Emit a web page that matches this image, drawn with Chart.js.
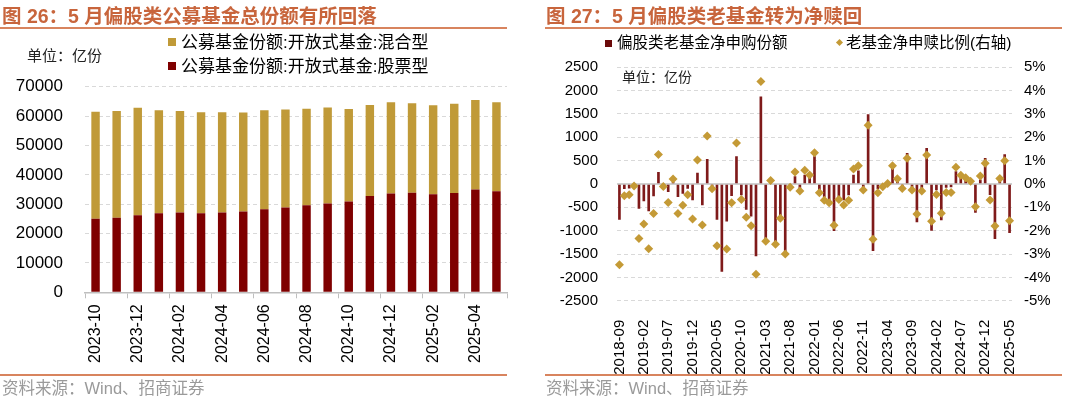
<!DOCTYPE html>
<html>
<head>
<meta charset="UTF-8">
<title>偏股类基金份额</title>
<script src="https://cdn.jsdelivr.net/npm/chart.js"></script>
<style>
    body {
        margin: 0;
        padding: 0;
        width: 1080px;
        height: 396px;
        overflow: hidden;
        position: relative;
        background-color: #FFFFFF;
        font-family: "Liberation Sans", Arial, "Noto Sans CJK SC", sans-serif;
    }

    canvas {
        position: absolute;
        top: 0;
    }

    .txt {
        position: absolute;
        white-space: nowrap;
        z-index: 2;
    }

    .title {
        top: 6px;
        font-size: 19.5px;
        line-height: 20px;
        font-weight: bold;
        color: #c8653c;
    }

    .rule {
        position: absolute;
        height: 2px;
        background-color: #d8845e;
        z-index: 2;
    }

    .source {
        top: 380px;
        font-size: 16.5px;
        line-height: 17px;
        color: #9a9a9a;
    }

    .unit {
        color: #222222;
    }

    .box {
        position: absolute;
        z-index: 2;
    }
</style>
</head>
<body>
<!-- 左图 -->
<canvas id="chart26" width="540" height="396" style="left:0"></canvas>
<div class="txt title" style="left:2px">图 26：5 月偏股类公募基金总份额有所回落</div>
<div class="rule" style="left:0; top:27px; width:507px"></div>
<div class="box" style="left:168px; top:38px; width:8px; height:8px; background:#c09a38"></div>
<div class="txt" style="left:181px; top:34px; font-size:17px; line-height:17px">公募基金份额:开放式基金:混合型</div>
<div class="box" style="left:168px; top:62px; width:8px; height:8px; background:#7f0000"></div>
<div class="txt" style="left:181px; top:58px; font-size:17px; line-height:17px">公募基金份额:开放式基金:股票型</div>
<div class="txt unit" style="left:27px; top:48px; font-size:15px; line-height:15px">单位：亿份</div>
<div class="rule" style="left:0; top:374px; width:507px"></div>
<div class="txt source" style="left:2px">资料来源：Wind、招商证券</div>

<!-- 右图 -->
<canvas id="chart27" width="540" height="396" style="left:540px"></canvas>
<div class="txt title" style="left:546px">图 27：5 月偏股类老基金转为净赎回</div>
<div class="rule" style="left:545px; top:27px; width:517px"></div>
<div class="box" style="left:605px; top:40px; width:7px; height:7px; background:#6b0a0a"></div>
<div class="txt" style="left:617px; top:35px; font-size:15.5px; line-height:16px">偏股类老基金净申购份额</div>
<div class="box" style="left:837px; top:40px; width:5px; height:5px; background:#c49a36; transform:rotate(45deg)"></div>
<div class="txt" style="left:846px; top:35px; font-size:15.5px; line-height:16px">老基金净申赎比例(右轴)</div>
<div class="txt unit" style="left:622px; top:70px; font-size:14px; line-height:14px">单位：亿份</div>
<div class="rule" style="left:545px; top:374px; width:517px"></div>
<div class="txt source" style="left:546px">资料来源：Wind、招商证券</div>

<script>
    // 图26 数据（亿份）
    const months26 = ['2023-10', '2023-11', '2023-12', '2024-01', '2024-02', '2024-03', '2024-04', '2024-05',
        '2024-06', '2024-07', '2024-08', '2024-09', '2024-10', '2024-11', '2024-12', '2025-01',
        '2025-02', '2025-03', '2025-04', '2025-05'];
    const stockShares = [25000, 25400, 26200, 26900, 27200, 26900, 27200, 27500, 28300, 28900,
        29600, 30200, 30900, 32800, 33600, 33900, 33400, 33800, 35000, 34400];
    const mixedShares = [36500, 36300, 36600, 35100, 34500, 34400, 34100, 33700, 33700, 33300,
        32900, 32700, 31500, 31000, 31100, 30500, 30300, 30400, 30500, 30300];

    // 图27 数据
    const months27 = [
        '2018-09', '2018-10', '2018-11', '2018-12',
        '2019-01', '2019-02', '2019-03', '2019-04', '2019-05', '2019-06', '2019-07', '2019-08', '2019-09', '2019-10', '2019-11', '2019-12',
        '2020-01', '2020-02', '2020-03', '2020-04', '2020-05', '2020-06', '2020-07', '2020-08', '2020-09', '2020-10', '2020-11', '2020-12',
        '2021-01', '2021-02', '2021-03', '2021-04', '2021-05', '2021-06', '2021-07', '2021-08', '2021-09', '2021-10', '2021-11', '2021-12',
        '2022-01', '2022-02', '2022-03', '2022-04', '2022-05', '2022-06', '2022-07', '2022-08', '2022-09', '2022-10', '2022-11', '2022-12',
        '2023-01', '2023-02', '2023-03', '2023-04', '2023-05', '2023-06', '2023-07', '2023-08', '2023-09', '2023-10', '2023-11', '2023-12',
        '2024-01', '2024-02', '2024-03', '2024-04', '2024-05', '2024-06', '2024-07', '2024-08', '2024-09', '2024-10', '2024-11', '2024-12',
        '2025-01', '2025-02', '2025-03', '2025-04', '2025-05'];
    // 偏股类老基金净申购份额（亿份）
    const netSubscription = [
        -757, -100, -90, -40,
        -521, -364, -579, -257, 250, -30, -164, 40, -271, -200, -93, -343,
        236, -450, 530, -40, -760, -1875, -795, -250, 586, -236, -543, -690,
        -1543, 1868, -1250, 60, -1255, -680, -1505, -60, 157, -120, 193, 121,
        586, -120, -271, -343, -1000, -271, -343, -236, 193, 280, -110, 1486,
        -1429, -100, -60, 10, 420, 100, -100, 657, -150, -814, -160, 764,
        -996, -129, -771, -75, -65, 264, 160, 80, 40, -610, 90, 550,
        -230, -1170, 90, 630, -1040];
    // 老基金净申赎比例（%，右轴）
    const redemptionRatio = [
        -3.46, -0.50, -0.46, -0.09,
        -2.33, -1.71, -2.77, -1.26, 1.26, -0.11, -0.79, 0.21, -1.26, -0.91, -0.46, -1.50,
        1.03, -1.76, 2.06, -0.20, -2.65, -6.5, -2.78, -0.80, 1.76, -0.66, -1.42, -1.79,
        -3.87, 4.39, -2.45, 0.15, -2.58, -1.47, -3.00, -0.14, 0.51, -0.30, 0.59, 0.39,
        1.34, -0.37, -0.70, -0.80, -1.77, -0.66, -0.90, -0.70, 0.64, 0.78, -0.26, 2.52,
        -2.37, -0.37, -0.12, 0.02, 0.78, 0.22, -0.19, 1.10, -0.26, -1.29, -0.30, 1.24,
        -1.60, -0.45, -1.25, -0.36, -0.36, 0.72, 0.37, 0.27, 0.12, -0.97, 0.34, 0.89,
        -0.69, -1.80, 0.24, 1.00, -1.57];

    Chart.defaults.font.family = '"Liberation Sans", Arial, sans-serif';
    Chart.defaults.color = '#000000';
    Chart.defaults.animation = false;

    const GRID = '#d9d9d9';
    const NONE = 'rgba(0,0,0,0)';

    // 图26：堆积柱状图
    new Chart(document.getElementById('chart26'), {
        type: 'bar',
        data: {
            labels: months26,
            datasets: [{
                label: '公募基金份额:开放式基金:股票型',
                data: stockShares,
                backgroundColor: '#7f0000',
                barPercentage: 0.4,
                categoryPercentage: 1
            }, {
                label: '公募基金份额:开放式基金:混合型',
                data: mixedShares,
                backgroundColor: '#c09a38',
                barPercentage: 0.4,
                categoryPercentage: 1
            }]
        },
        options: {
            responsive: false,
            layout: { padding: { left: 0, right: 33, top: 86.7, bottom: 23.7 } },
            plugins: { legend: { display: false }, tooltip: { enabled: false } },
            scales: {
                x: {
                    stacked: true,
                    grid: {
                        offset: true,
                        drawOnChartArea: false,
                        drawTicks: true,
                        tickLength: 6,
                        tickColor: c => (c.index === undefined || c.index % 2 === 0) ? '#bfbfbf' : NONE
                    },
                    border: { color: '#bfbfbf', width: 1.5 },
                    ticks: {
                        autoSkip: false,
                        minRotation: 90,
                        maxRotation: 90,
                        padding: 6,
                        font: { size: 16 },
                        callback: function (v, i) { return i % 2 === 0 ? this.getLabelForValue(v) : ''; }
                    },
                    afterFit: s => { s.height = 80; }
                },
                y: {
                    stacked: true,
                    min: 0,
                    max: 70000,
                    ticks: { stepSize: 10000, padding: 22, font: { size: 17 }, callback: v => String(v) },
                    grid: { drawTicks: false, color: c => (c.tick && c.tick.value === 0) ? NONE : GRID },
                    border: { display: false, dash: [4, 3] },
                    afterFit: s => { s.width = 85; }
                }
            }
        }
    });

    // 图27：柱 + 菱形点（右轴）
    new Chart(document.getElementById('chart27'), {
        type: 'bar',
        data: {
            labels: months27,
            datasets: [{
                type: 'line',
                label: '老基金净申赎比例(右轴)',
                data: redemptionRatio,
                yAxisID: 'y1',
                showLine: false,
                pointStyle: 'rectRot',
                pointRadius: 4.5,
                pointBackgroundColor: '#c49a36',
                pointBorderColor: '#c49a36',
                pointBorderWidth: 0,
                order: 0
            }, {
                type: 'bar',
                label: '偏股类老基金净申购份额',
                data: netSubscription,
                yAxisID: 'y',
                backgroundColor: '#7f1a1a',
                barThickness: 2,
                order: 1
            }]
        },
        options: {
            responsive: false,
            layout: { padding: { left: 0, right: 0, top: 67.3, bottom: 15.3 } },
            plugins: { legend: { display: false }, tooltip: { enabled: false } },
            scales: {
                x: {
                    grid: { display: false },
                    border: { display: false },
                    ticks: {
                        autoSkip: false,
                        minRotation: 90,
                        maxRotation: 90,
                        padding: 11,
                        font: { size: 15 },
                        callback: function (v, i) { return i % 5 === 0 ? this.getLabelForValue(v) : ''; }
                    },
                    afterFit: s => { s.height = 80; }
                },
                y: {
                    position: 'left',
                    min: -2500,
                    max: 2500,
                    ticks: { stepSize: 500, padding: 19, font: { size: 15 }, callback: v => String(v) },
                    grid: {
                        drawTicks: false,
                        color: c => (c.tick && c.tick.value === 0) ? '#d0d0d0' : GRID,
                        lineWidth: c => (c.tick && c.tick.value === 0) ? 2 : 1
                    },
                    border: { display: false, dash: c => (c.tick && c.tick.value === 0) ? [] : [4, 3] },
                    afterFit: s => { s.width = 77; }
                },
                y1: {
                    position: 'right',
                    min: -5,
                    max: 5,
                    ticks: { stepSize: 1, padding: 12, font: { size: 15 }, callback: v => v + '%' },
                    grid: { display: false, drawTicks: false },
                    border: { display: false },
                    afterFit: s => { s.width = 68; }
                }
            }
        }
    });
</script>
</body>
</html>
